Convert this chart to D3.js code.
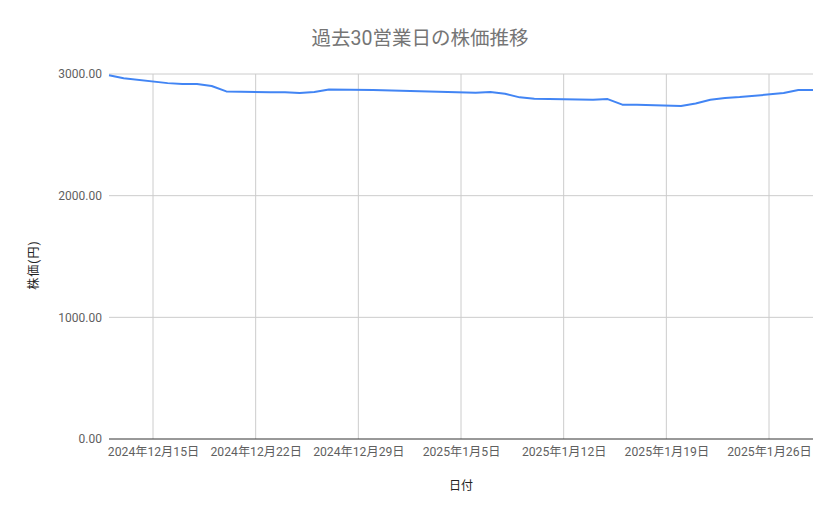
<!DOCTYPE html>
<meta charset="utf-8">
<style>
body { margin: 0; background: #fff; }
text { font-family: Roboto, "Noto Sans CJK JP", sans-serif; }
.grid line { stroke: #ccc; stroke-width: 1px; }
.line { fill: none; stroke: #4285f4; stroke-width: 2px; stroke-linejoin: round; }
</style>
<body>
<script src="https://d3js.org/d3.v7.min.js"></script>
<script>

// trading days and closing prices (円)
var dates = [
  "2024-12-12", "2024-12-13", "2024-12-16", "2024-12-17", "2024-12-18",
  "2024-12-19", "2024-12-20", "2024-12-23", "2024-12-24", "2024-12-25",
  "2024-12-26", "2024-12-27", "2024-12-30", "2025-01-06", "2025-01-07",
  "2025-01-08", "2025-01-09", "2025-01-10", "2025-01-14", "2025-01-15",
  "2025-01-16", "2025-01-17", "2025-01-20", "2025-01-21", "2025-01-22",
  "2025-01-23", "2025-01-24", "2025-01-27", "2025-01-28", "2025-01-29"
];
var prices = [
  2990, 2965, 2925, 2918, 2918,
  2901, 2857, 2849, 2849, 2843,
  2852, 2873, 2868, 2845, 2852,
  2838, 2808, 2797, 2788, 2794,
  2748, 2748, 2737, 2758, 2789,
  2802, 2810, 2843, 2868, 2868
];
var yTicks = [0, 1000, 2000, 3000];
var xTicks = ["2024-12-15", "2024-12-22", "2024-12-29", "2025-01-05",
              "2025-01-12", "2025-01-19", "2025-01-26"];

var parse = d3.timeParse("%Y-%m-%d");
var data = dates.map(function(d, i) { return {date: parse(d), value: prices[i]}; });

var W = 839, H = 519;
var margin = {top: 74, right: 26, bottom: 80, left: 109};
var width = W - margin.left - margin.right,
    height = H - margin.top - margin.bottom;

var x = d3.scaleTime()
    .domain([parse("2024-12-12"), parse("2025-01-29")])
    .range([0, width]);
var y = d3.scaleLinear().domain([0, 3000]).range([height, 0]);

var svg = d3.select("body").append("svg")
    .attr("width", W)
    .attr("height", H);

svg.append("text")
    .attr("x", 420).attr("y", 45)
    .attr("text-anchor", "middle")
    .style("font-size", "19.5px")
    .style("fill", "#757575")
    .text("過去30営業日の株価推移");

var g = svg.append("g")
    .attr("transform", "translate(" + margin.left + "," + margin.top + ")");

// gridlines
g.append("g").attr("class", "grid")
  .selectAll("line").data(yTicks.filter(function(d) { return d > 0; }))
  .enter().append("line")
    .attr("x1", 0).attr("x2", width)
    .attr("y1", function(d) { return y(d); })
    .attr("y2", function(d) { return y(d); });

g.append("g").attr("class", "grid")
  .selectAll("line").data(xTicks)
  .enter().append("line")
    .attr("x1", function(d) { return x(parse(d)); })
    .attr("x2", function(d) { return x(parse(d)); })
    .attr("y1", 0).attr("y2", height);

// y labels
var yAxis = g.append("g")
    .call(d3.axisLeft(y).tickValues(yTicks).tickSize(0).tickPadding(7)
      .tickFormat(d3.format(".2f")));
yAxis.select(".domain").remove();
yAxis.selectAll("text").style("font-size", "12px").style("fill", "#5f5f5f")
    .style("font-family", "Roboto, sans-serif");

// x labels
var fmt = d3.timeFormat("%Y年%-m月%-d日");
var xAxis = g.append("g")
    .attr("transform", "translate(0," + height + ")")
    .call(d3.axisBottom(x).tickValues(xTicks.map(parse)).tickSize(0).tickPadding(8)
      .tickFormat(fmt));
xAxis.select(".domain").remove();
xAxis.selectAll("text").style("font-size", "12.2px").style("fill", "#5f5f5f");

// zero baseline
g.append("line")
    .attr("x1", 0).attr("x2", width)
    .attr("y1", y(0)).attr("y2", y(0))
    .style("stroke", "#333").style("stroke-width", 1);

// price line
var valueLine = d3.line()
    .x(function(d) { return x(d.date); })
    .y(function(d) { return y(d.value); });

g.append("path")
    .datum(data)
    .attr("class", "line")
    .attr("d", valueLine);

// axis titles
svg.append("text")
    .attr("x", margin.left + width / 2).attr("y", 490)
    .attr("text-anchor", "middle")
    .style("font-size", "12px").style("fill", "#222")
    .text("日付");

svg.append("text")
    .attr("transform", "translate(38,265) rotate(-90)")
    .attr("text-anchor", "middle")
    .style("font-size", "12px").style("fill", "#222")
    .style("letter-spacing", "1px")
    .text("株価(円)");

</script>
</body>
